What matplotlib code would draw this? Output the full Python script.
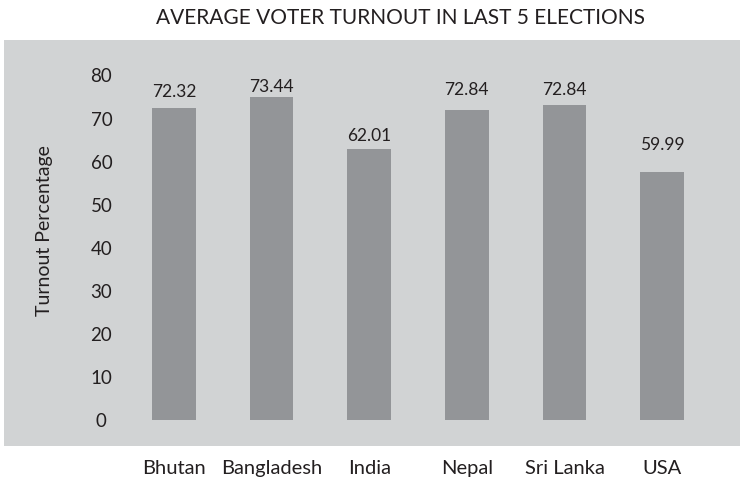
import matplotlib
matplotlib.use("Agg")
import matplotlib.pyplot as plt
from matplotlib.patches import Rectangle

# data
countries = ["Bhutan", "Bangladesh", "India", "Nepal", "Sri Lanka", "USA"]
turnout = [72.32, 73.44, 62.01, 72.84, 72.84, 59.99]      # printed values
bar_heights = [72.5, 75.0, 62.9, 72.0, 73.2, 57.6]        # drawn bar heights
y_ticks = [0, 10, 20, 30, 40, 50, 60, 70, 80]

BG = "#d1d3d4"
BAR = "#939598"
TXT = "#231f20"

plt.rcParams["font.family"] = ["Lato", "DejaVu Sans"]

fig = plt.figure(figsize=(7.44, 4.84), dpi=100)
fig.patch.set_facecolor("white")

# grey panel behind the plot (not the axes itself)
fig.patches.append(Rectangle((4 / 744, 38 / 484), 736 / 744, 406 / 484,
                             transform=fig.transFigure, facecolor=BG,
                             edgecolor="none", zorder=-1))

ax = fig.add_axes([125 / 744, 64 / 484, 586 / 744, 344.5 / 484])
ax.set_facecolor("none")
ax.set_zorder(2)

x = list(range(len(countries)))
ax.bar(x, bar_heights, width=0.45, color=BAR, zorder=2)

for xi, val in zip(x, turnout):
    ax.text(xi, val + 2.0, f"{val:.2f}", ha="center", va="bottom",
            fontsize=12.5, color=TXT)

ax.set_xlim(-0.5, len(countries) - 0.5)
ax.set_ylim(0, 80)
ax.set_yticks(y_ticks)
ax.set_xticks(x)
ax.set_xticklabels(countries, fontsize=14.5, color=TXT)
ax.tick_params(axis="x", length=0, pad=28.5)
ax.tick_params(axis="y", length=0, pad=17, labelsize=13.5, labelcolor=TXT)
for lbl in ax.get_yticklabels():
    lbl.set_horizontalalignment("center")

for s in ax.spines.values():
    s.set_visible(False)

ax.set_ylabel("Turnout Percentage", fontsize=14, color=TXT, labelpad=0)
ax.yaxis.set_label_coords(-72 / 586, 0.55)

fig.text(400 / 744, 1 - 18 / 484, "AVERAGE VOTER TURNOUT IN LAST 5 ELECTIONS",
         ha="center", va="center", fontsize=15, color=TXT)

fig.savefig("out.png", dpi=100)
